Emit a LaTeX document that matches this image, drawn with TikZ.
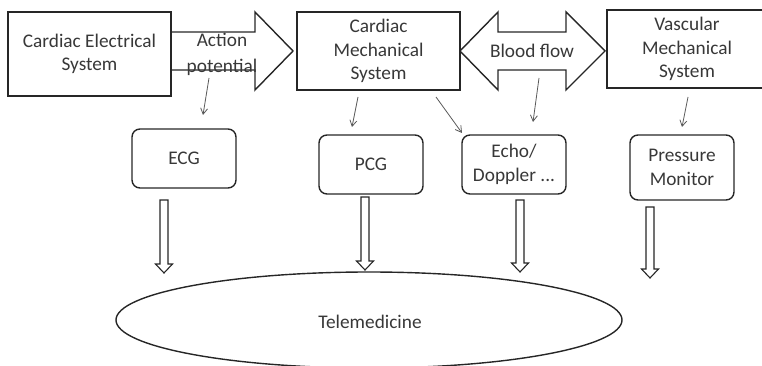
\documentclass[tikz,border=0pt]{standalone}
\usepackage{fontspec}
\setmainfont{Carlito}
\usetikzlibrary{arrows.meta,shapes.geometric}

\tikzset{
  every node/.style={font=\fontsize{19.3}{23.5}\selectfont, text=black!78},
  sysbox/.style={draw=black!85, line width=1.4pt, fill=white, align=center, inner sep=0pt},
  devbox/.style={draw=black!85, line width=1.4pt, rounded corners=8pt, align=center, inner sep=0pt,
                 minimum width=104pt},
  bigarrow/.style={draw=black!85, line width=1.4pt, line join=miter},
  hollow/.style={draw=black!85, line width=1.1pt, fill=white, line join=miter},
  probe/.style={draw=black!65, line width=0.8pt, -{Straight Barb[length=6pt,width=7pt]}},
  lbl/.style={align=center, inner sep=0pt}
}

% hollow downward arrow: centre x, top y, tip y
\newcommand{\HollowDown}[3]{%
  \draw[hollow] (#1-4,#2) -- (#1+4,#2) -- (#1+4,#3-9) -- (#1+8.5,#3-9)
    -- (#1,#3) -- (#1-8.5,#3-9) -- (#1-4,#3-9) -- cycle;}

\begin{document}
\begin{tikzpicture}[x=1pt,y=-1pt]
\useasboundingbox (0,0) rectangle (762,366);
\clip (0,0) rectangle (762,366);

% systems
\node[sysbox, minimum width=163pt, minimum height=84pt] (ces) at (89.5,54)
  {Cardiac Electrical\\System};
\node[sysbox, minimum width=163pt, minimum height=78pt] (cms) at (378.5,51)
  {Cardiac\\Mechanical\\System};
\node[sysbox, minimum width=160pt, minimum height=78pt] (vms) at (687,49)
  {Vascular\\Mechanical\\System};

% action potential arrow
\draw[bigarrow] (171,32) -- (255,32) -- (255,12) -- (293,51) -- (255,90) -- (255,70) -- (171,70);
\node[lbl, font=\fontsize{19.3}{26}\selectfont] (ap) at (222,54) {Action\\potential};

% blood flow double arrow
\draw[bigarrow] (460,51) -- (498,12) -- (498,32) -- (566,32) -- (566,12) -- (605,51)
  -- (566,90) -- (566,70) -- (498,70) -- (498,90) -- cycle;
\node[lbl] (bf) at (532,51) {Blood flow};

% measurement devices
\node[devbox, minimum height=59pt] (ecg) at (184,158.5) {ECG};
\node[devbox, minimum height=59pt] (pcg) at (371,164.5) {PCG};
\node[devbox, minimum height=59pt] (echo) at (514,164.5) {Echo/\\Doppler ...};
\node[devbox, minimum height=65pt] (pm) at (682,167.5) {Pressure\\Monitor};

% telemedicine
\node[draw=black!85, line width=1.4pt, ellipse, minimum width=506pt, minimum height=96pt,
      inner sep=0pt] (tele) at (369,320) {};
\node[lbl] (teletext) at (370,322) {Telemedicine};

% probes from the systems to the devices
\coordinate (p1s) at (209,78);  \coordinate (p1e) at (203,115);
\coordinate (p2s) at (358,97);  \coordinate (p2e) at (352,127);
\coordinate (p3s) at (436,97);  \coordinate (p3e) at (462,133);
\coordinate (p4s) at (539,78);  \coordinate (p4e) at (533,122);
\coordinate (p5s) at (688,97);  \coordinate (p5e) at (682,127);
\draw[probe] (p1s) -- (p1e);
\draw[probe] (p2s) -- (p2e);
\draw[probe] (p3s) -- (p3e);
\draw[probe] (p4s) -- (p4e);
\draw[probe] (p5s) -- (p5e);

% data flow into telemedicine
\HollowDown{164}{200}{273}
\HollowDown{365}{197}{270}
\HollowDown{520}{200}{272}
\HollowDown{650}{207}{278}
\end{tikzpicture}
\end{document}
